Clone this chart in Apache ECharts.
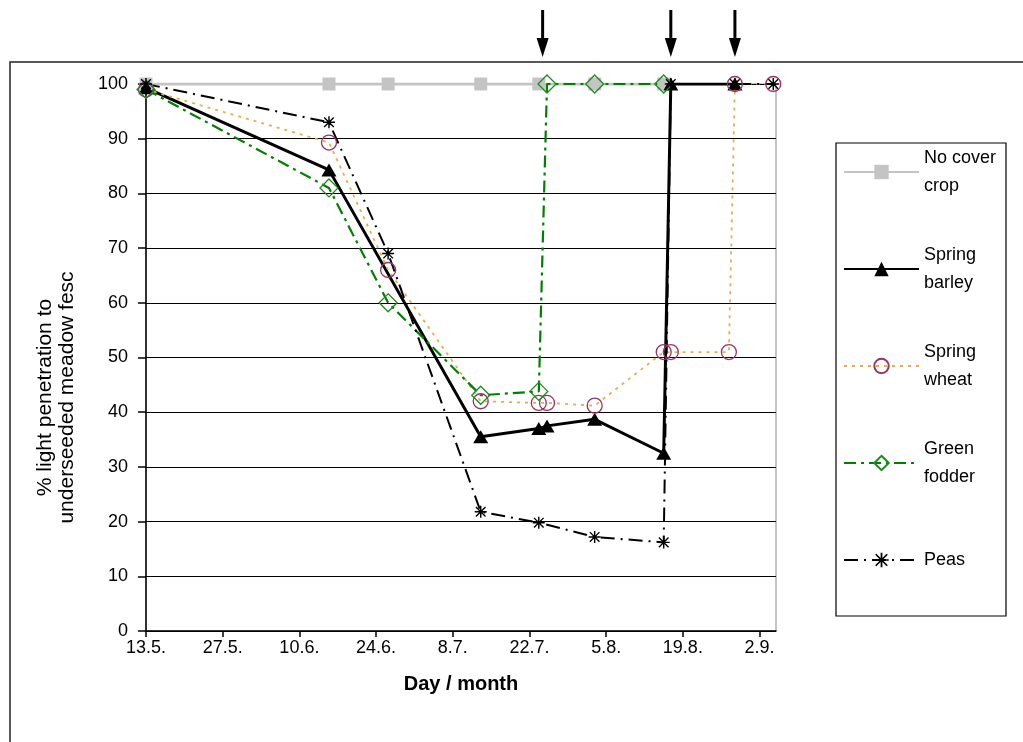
<!DOCTYPE html>
<html><head><meta charset="utf-8">
<script src="https://cdn.jsdelivr.net/npm/echarts@6/dist/echarts.min.js"></script>
<style>html,body{margin:0;padding:0;background:#fff}#c{width:1023px;height:742px}</style>
</head><body><div id="c"></div>
<script>
// x = days after 13 May
const tickDays = [0, 14, 28, 42, 56, 70, 84, 98, 112];
const tickLabels = ['13.5.', '27.5.', '10.6.', '24.6.', '8.7.', '22.7.', '5.8.', '19.8.', '2.9.'];
const seriesNames = ['No cover\ncrop', 'Spring\nbarley', 'Spring\nwheat', 'Green\nfodder', 'Peas'];
const noCover = [[0,100],[33.4,100],[44.2,100],[61.1,100],[71.7,100],[81.9,100],[94.5,100]];
const springBarley = [[0,99.3],[33.4,84.3],[61.1,35.5],[71.7,37],[73.2,37.5],[81.9,38.7],[94.5,32.5],[95.8,100],[107.5,100]];
const springWheat = [[0,99],[33.4,89.3],[44.2,66],[61.1,42],[71.7,41.7],[73.2,41.7],[81.9,41.2],[94.5,51],[95.8,51],[106.4,51],[107.5,100],[114.5,100]];
const greenFodder = [[0,99],[33.4,81],[44.2,60],[61.1,43.1],[71.7,43.8],[73.2,100],[81.9,100],[94.5,100]];
const peas = [[0,100],[33.4,93],[44.2,69],[61.1,21.8],[71.7,19.8],[81.9,17.2],[94.5,16.2],[95.8,100],[107.5,100],[114.5,100]];
const harvestDays = [72.4, 95.8, 107.5];

const FONT = 'Liberation Sans, Arial, sans-serif';
const asterisk = 'path://M4.4,0L5.6,0L5.6,10L4.4,10Z M0.6,1.4L1.4,0.6L9.4,8.6L8.6,9.4Z M8.6,0.6L9.4,1.4L1.4,9.4L0.6,8.6Z M0,4.4L10,4.4L10,5.6L0,5.6Z';

const chart = echarts.init(document.getElementById('c'), null, {renderer: 'canvas'});
const option = {
  backgroundColor: '#fff',
  animation: false,
  grid: {left: 146, right: 247, top: 84, bottom: 111, show: true, borderColor: '#8a8a8a', borderWidth: 1, backgroundColor: 'transparent'},
  xAxis: {
    type: 'value', min: 0, max: 115, interval: 14,
    name: 'Day / month', nameLocation: 'middle', nameGap: 43,
    nameTextStyle: {fontFamily: FONT, fontSize: 20, fontWeight: 'bold', color: '#000'},
    axisLine: {lineStyle: {color: '#000', width: 1.5}},
    axisTick: {show: true, inside: false, length: 6, lineStyle: {color: '#000', width: 1.5}, customValues: tickDays},
    axisLabel: {color: '#000', fontFamily: FONT, fontSize: 18, margin: 8, customValues: tickDays,
      formatter: v => { const i = tickDays.indexOf(v); return i >= 0 ? tickLabels[i] : ''; }},
    splitLine: {show: false}
  },
  yAxis: {
    type: 'value', min: 0, max: 100, interval: 10,
    name: '% light penetration to\nunderseeded meadow fesc', nameLocation: 'middle', nameGap: 68, nameRotate: 90,
    nameTextStyle: {fontFamily: FONT, fontSize: 21, lineHeight: 22, color: '#000', padding: [0, 80, 0, 0]},
    axisLine: {show: true, lineStyle: {color: '#000', width: 1.5}},
    axisTick: {show: true, inside: false, length: 8, lineStyle: {color: '#000', width: 1.5}},
    axisLabel: {color: '#000', fontFamily: FONT, fontSize: 18, margin: 18},
    splitLine: {show: true, lineStyle: {color: '#000', width: 1.2}}
  },
  legend: {
    orient: 'vertical', left: 843, top: 130, padding: 0, itemWidth: 75, itemHeight: 18, itemGap: 13, z: 10,
    textStyle: {fontFamily: FONT, fontSize: 18, lineHeight: 28, color: '#000', padding: [28, 0, 0, 0]},
    data: [
      {name: seriesNames[0]}, {name: seriesNames[1]}, {name: seriesNames[2]}, {name: seriesNames[3]},
      {name: seriesNames[4], textStyle: {padding: [28, 0, 28, 0]}}
    ]
  },
  series: [
    {name: seriesNames[0], type: 'line', data: noCover, symbol: 'rect', symbolSize: 13,
     lineStyle: {color: '#c4c4c4', width: 3}, itemStyle: {color: '#c4c4c4'}},
    {name: seriesNames[1], type: 'line', data: springBarley, symbol: 'triangle', symbolSize: [15, 13],
     lineStyle: {color: '#000', width: 3}, itemStyle: {color: '#000'}},
    {name: seriesNames[2], type: 'line', data: springWheat, symbol: 'circle', symbolSize: 15,
     lineStyle: {color: '#e8ad4a', width: 1.8, type: [3, 5]},
     itemStyle: {color: 'rgba(255,255,255,0)', borderColor: '#993366', borderWidth: 1.3}},
    {name: seriesNames[3], type: 'line', data: greenFodder, symbol: 'diamond', symbolSize: [18, 18],
     lineStyle: {color: '#008000', width: 2.2, type: [12, 5, 3, 5]},
     itemStyle: {color: 'rgba(255,255,255,0)', borderColor: '#1f8a1f', borderWidth: 1.3}},
    {name: seriesNames[4], type: 'line', data: peas, symbol: asterisk, symbolSize: 12, symbolKeepAspect: true,
     lineStyle: {color: '#000', width: 2, type: [14, 6, 2, 6]}, itemStyle: {color: '#000'}}
  ].map(s => Object.assign({showSymbol: true, showAllSymbol: true, emphasis: {disabled: true}}, s))
};
chart.setOption(option);

const graphics = [
  {type: 'rect', z: -10, silent: true, shape: {x: 10, y: 62, width: 1100, height: 800},
   style: {fill: 'none', stroke: '#222', lineWidth: 1.5}},
  {type: 'rect', z: 1, silent: true, shape: {x: 836, y: 143, width: 170, height: 473},
   style: {fill: '#fff', stroke: '#000', lineWidth: 1.2}}
];
harvestDays.forEach(d => {
  const x = chart.convertToPixel({xAxisIndex: 0}, d);
  graphics.push({type: 'line', silent: true, shape: {x1: x, y1: 10, x2: x, y2: 42}, style: {stroke: '#000', lineWidth: 3}});
  graphics.push({type: 'polygon', silent: true, shape: {points: [[x - 6, 38], [x + 6, 38], [x, 57]]}, style: {fill: '#000'}});
});
chart.setOption({graphic: graphics});
</script></body></html>
